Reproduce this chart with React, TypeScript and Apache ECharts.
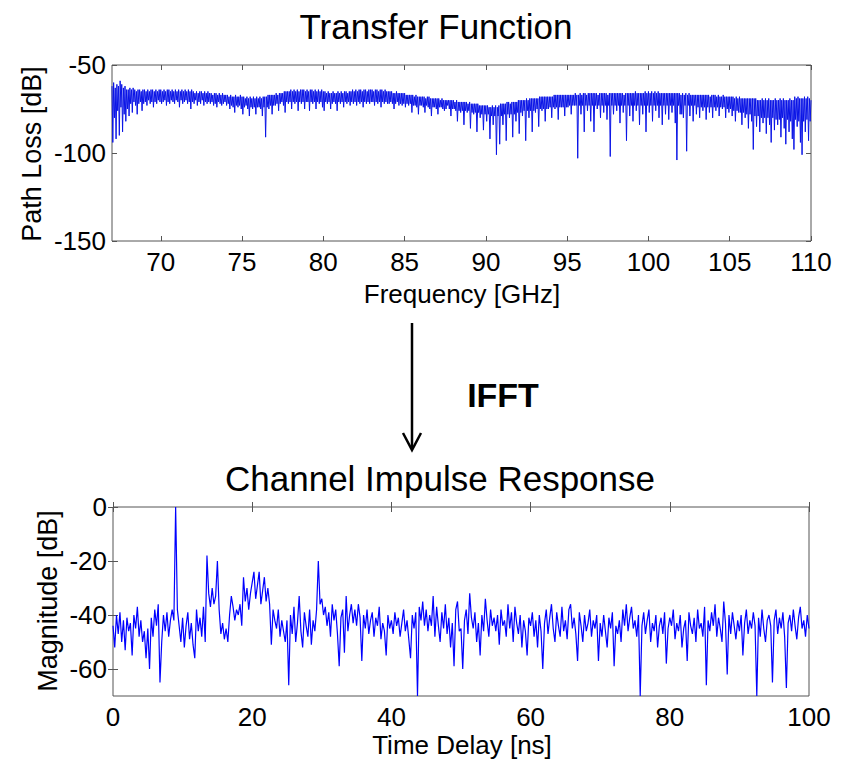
import React, { useEffect, useRef } from "react";
import * as echarts from "echarts";

// ---- Transfer function (top) : sampled every 0.05 GHz from 67 GHz (20 samples per row = 1 GHz) ----
const FREQ_START = 67;
const FREQ_STEP = 0.05;
const pathLossDb: number[] = [
  -62, -94, -60, -80, -63, -92, -61, -76, -62, -90, -59, -74, -61, -88, -63, -78, -62, -82, -64, -75, // 67
  -64, -79, -63, -72, -64, -77, -63, -71, -64, -73, -65, -78, -64, -72, -64, -71, -65, -76, -64, -72, // 68
  -64, -71, -65, -73, -64, -70, -65, -72, -64, -71, -64, -74, -65, -71, -64, -72, -65, -70, -64, -71, // 69
  -64, -72, -65, -71, -64, -70, -65, -73, -64, -71, -64, -72, -65, -70, -64, -71, -65, -72, -64, -70, // 70
  -65, -71, -64, -74, -65, -70, -64, -72, -65, -71, -64, -70, -65, -72, -64, -71, -65, -75, -64, -71, // 71
  -65, -72, -66, -70, -65, -73, -66, -71, -65, -72, -65, -70, -66, -73, -65, -71, -66, -72, -65, -71, // 72
  -66, -72, -66, -71, -67, -73, -66, -72, -66, -74, -67, -71, -66, -72, -67, -73, -66, -72, -67, -71, // 73
  -67, -73, -67, -72, -68, -75, -67, -73, -68, -74, -68, -77, -67, -73, -68, -74, -68, -73, -67, -75, // 74
  -68, -78, -68, -74, -69, -73, -68, -75, -69, -79, -68, -74, -69, -75, -68, -74, -69, -78, -68, -74, // 75
  -69, -74, -68, -75, -69, -79, -68, -74, -68, -91, -68, -74, -67, -75, -67, -73, -67, -78, -67, -73, // 76
  -67, -73, -66, -72, -67, -76, -66, -72, -66, -71, -66, -73, -65, -77, -65, -71, -65, -72, -65, -71, // 77
  -64, -75, -65, -71, -64, -72, -65, -71, -64, -76, -65, -71, -64, -72, -64, -71, -64, -75, -65, -71, // 78
  -64, -71, -65, -76, -64, -71, -64, -72, -65, -71, -64, -75, -65, -71, -64, -72, -65, -71, -64, -74, // 79
  -65, -76, -65, -71, -66, -72, -65, -71, -66, -75, -66, -72, -65, -71, -66, -72, -66, -76, -65, -71, // 80
  -66, -72, -65, -71, -66, -74, -65, -71, -65, -72, -66, -71, -65, -73, -65, -71, -64, -72, -65, -71, // 81
  -64, -73, -65, -71, -64, -72, -64, -71, -65, -74, -64, -71, -64, -72, -65, -71, -64, -72, -64, -71, // 82
  -64, -71, -65, -73, -64, -71, -64, -72, -65, -71, -64, -74, -64, -71, -65, -72, -64, -71, -65, -72, // 83
  -65, -72, -65, -71, -65, -72, -66, -75, -66, -72, -65, -71, -66, -73, -66, -72, -66, -73, -66, -72, // 84
  -66, -74, -67, -72, -67, -73, -67, -72, -67, -77, -67, -73, -68, -73, -67, -74, -68, -78, -68, -73, // 85
  -68, -73, -68, -74, -68, -77, -69, -73, -68, -74, -68, -75, -69, -79, -69, -74, -69, -74, -69, -75, // 86
  -69, -78, -69, -74, -70, -74, -69, -75, -70, -76, -70, -75, -70, -73, -70, -75, -70, -79, -70, -75, // 87
  -70, -75, -71, -76, -70, -82, -71, -76, -71, -77, -71, -76, -71, -84, -71, -76, -71, -77, -72, -76, // 88
  -71, -86, -72, -77, -72, -78, -72, -77, -72, -88, -72, -77, -73, -80, -73, -78, -73, -87, -73, -78, // 89
  -73, -82, -73, -78, -74, -92, -74, -79, -73, -84, -74, -79, -73, -101, -74, -79, -73, -95, -72, -79, // 90
  -72, -84, -72, -78, -72, -93, -71, -78, -71, -80, -72, -78, -71, -91, -71, -78, -71, -82, -71, -77, // 91
  -70, -89, -70, -77, -70, -79, -70, -76, -70, -93, -69, -76, -70, -80, -69, -76, -69, -88, -69, -76, // 92
  -69, -77, -69, -75, -69, -85, -68, -75, -68, -76, -68, -75, -68, -82, -68, -75, -68, -75, -68, -74, // 93
  -68, -80, -68, -74, -67, -75, -67, -74, -67, -81, -67, -74, -67, -74, -67, -74, -67, -79, -67, -74, // 94
  -67, -74, -67, -73, -67, -78, -67, -73, -67, -73, -66, -73, -67, -103, -67, -73, -66, -78, -67, -73, // 95
  -66, -88, -66, -73, -67, -76, -66, -73, -66, -82, -66, -73, -66, -88, -66, -73, -66, -75, -67, -73, // 96
  -66, -80, -66, -73, -66, -77, -66, -73, -66, -81, -67, -73, -66, -102, -66, -73, -66, -78, -66, -73, // 97
  -66, -76, -66, -73, -66, -83, -66, -73, -66, -77, -67, -73, -66, -93, -66, -73, -66, -79, -66, -73, // 98
  -66, -82, -66, -73, -65, -76, -66, -73, -66, -84, -66, -73, -66, -78, -66, -73, -65, -88, -66, -73, // 99
  -65, -77, -66, -73, -65, -82, -66, -73, -65, -76, -66, -73, -65, -80, -66, -73, -66, -84, -66, -73, // 100
  -66, -78, -66, -73, -66, -81, -66, -73, -66, -77, -66, -73, -66, -83, -66, -104, -66, -73, -66, -78, // 101
  -67, -78, -66, -80, -67, -73, -66, -99, -67, -73, -66, -79, -67, -73, -67, -82, -67, -73, -67, -78, // 102
  -67, -74, -67, -80, -67, -74, -67, -76, -67, -74, -67, -81, -67, -74, -67, -77, -68, -74, -67, -80, // 103
  -67, -74, -67, -76, -68, -74, -67, -79, -68, -74, -68, -75, -67, -74, -68, -80, -68, -75, -68, -77, // 104
  -68, -75, -68, -79, -68, -76, -69, -82, -68, -76, -69, -77, -68, -77, -69, -84, -69, -77, -69, -80, // 105
  -69, -78, -69, -86, -69, -78, -69, -82, -69, -98, -69, -79, -69, -85, -70, -79, -70, -88, -70, -80, // 106
  -69, -83, -70, -80, -69, -89, -70, -80, -69, -84, -70, -94, -70, -80, -70, -87, -69, -81, -70, -84, // 107
  -70, -81, -69, -91, -70, -80, -69, -86, -70, -95, -70, -81, -70, -88, -69, -82, -70, -92, -70, -98, // 108
  -68, -81, -69, -85, -68, -82, -69, -94, -69, -101, -69, -82, -68, -88, -69, -81, -68, -93, -69, -82, // 109
  -70, // 110
];

// ---- Channel impulse response (bottom) : sampled every 0.25 ns from 0 ns ----
const DELAY_START = 0;
const DELAY_STEP = 0.25;
const magnitudeDb: number[] = [
  -44, -52, -40, -47, -39, -50, -42, -53, -41, -46, -43, -55, -40, -45, -37, -48, -42, -50, -46, -56, // 0
  -45, -60, -41, -48, -38, -44, -36, -65, -50, -40, -46, -39, -48, -42, -38, -42, 0, -38, -44, -50, // 5
  -41, -52, -44, -39, -49, -43, -51, -56, -38, -46, -41, -48, -37, -50, -18, -32, -37, -30, -36, -33, // 10
  -20, -38, -47, -43, -49, -45, -50, -40, -33, -37, -42, -38, -40, -36, -44, -26, -35, -30, -38, -32, // 15
  -28, -24, -34, -29, -24, -36, -31, -26, -35, -30, -36, -51, -38, -42, -45, -38, -48, -42, -46, -50, // 20
  -42, -66, -40, -47, -37, -50, -43, -33, -46, -52, -39, -44, -48, -38, -51, -42, -46, -38, -20, -36, // 25
  -34, -40, -37, -44, -39, -48, -36, -42, -38, -47, -59, -41, -38, -54, -33, -46, -40, -36, -43, -38, // 30
  -44, -36, -41, -57, -40, -45, -38, -47, -42, -39, -48, -41, -44, -37, -49, -43, -46, -55, -40, -45, // 35
  -42, -47, -39, -44, -41, -48, -43, -38, -46, -42, -49, -56, -40, -45, -39, -70, -37, -42, -35, -44, // 40
  -38, -46, -40, -44, -33, -48, -37, -44, -50, -39, -45, -36, -47, -41, -52, -43, -59, -38, -35, -46, // 45
  -45, -60, -42, -38, -47, -32, -41, -45, -39, -50, -43, -55, -40, -46, -34, -42, -48, -38, -44, -41, // 50
  -46, -40, -51, -38, -44, -42, -48, -36, -45, -39, -50, -37, -43, -47, -40, -52, -42, -46, -55, -41, // 55
  -44, -39, -48, -42, -52, -40, -46, -60, -43, -38, -47, -41, -36, -45, -50, -39, -44, -48, -37, -46, // 60
  -42, -49, -38, -36, -45, -41, -47, -57, -39, -44, -50, -40, -46, -43, -38, -48, -42, -45, -40, -57, // 65
  -43, -48, -40, -46, -52, -41, -45, -39, -59, -44, -47, -42, -50, -38, -44, -36, -46, -41, -37, -45, // 70
  -42, -48, -40, -70, -44, -39, -47, -42, -38, -50, -43, -46, -40, -52, -44, -41, -47, -39, -58, -45, // 75
  -41, -44, -38, -49, -43, -46, -40, -52, -45, -42, -57, -39, -44, -47, -41, -50, -38, -45, -43, -48, // 80
  -37, -66, -42, -46, -39, -44, -36, -48, -41, -45, -50, -35, -43, -62, -40, -47, -39, -44, -49, -42, // 85
  -46, -40, -55, -43, -38, -47, -42, -45, -39, -44, -70, -41, -48, -38, -45, -50, -42, -40, -44, -65, // 90
  -42, -38, -47, -41, -45, -39, -48, -67, -43, -40, -46, -38, -44, -49, -41, -37, -45, -42, -48, -40, // 95
  -45, // 100
];

const freqTicks = [70, 75, 80, 85, 90, 95, 100, 105, 110];
const pathLossTicks = [-150, -100, -50];
const delayTicks = [0, 20, 40, 60, 80, 100];
const magnitudeTicks = [-60, -40, -20, 0];

const FONT = 'Arial, "Liberation Sans", Helvetica, sans-serif';
const FRAME = "#555555";
const TICK_FONT = 26;

function xAxisPair(grid: number, min: number, max: number, ticks: number[]) {
  const tick = { show: true, inside: true, length: 5, customValues: ticks, lineStyle: { color: FRAME, width: 1 } };
  return [
    {
      gridIndex: grid, type: "value", min, max, position: "bottom",
      axisLine: { show: false }, axisTick: tick, splitLine: { show: false },
      axisLabel: { customValues: ticks, fontSize: TICK_FONT, color: "#000", margin: 8, fontFamily: FONT },
    },
    {
      gridIndex: grid, type: "value", min, max, position: "top",
      axisLine: { show: false }, axisTick: tick, splitLine: { show: false },
      axisLabel: { show: false },
    },
  ];
}

function yAxisPair(grid: number, min: number, max: number, ticks: number[]) {
  const tick = { show: true, inside: true, length: 5, customValues: ticks, lineStyle: { color: FRAME, width: 1 } };
  return [
    {
      gridIndex: grid, type: "value", min, max, position: "left",
      axisLine: { show: false }, axisTick: tick, splitLine: { show: false },
      axisLabel: { customValues: ticks, fontSize: TICK_FONT, color: "#000", margin: 6, fontFamily: FONT },
    },
    {
      gridIndex: grid, type: "value", min, max, position: "right",
      axisLine: { show: false }, axisTick: tick, splitLine: { show: false },
      axisLabel: { show: false },
    },
  ];
}

export default function App() {
  const ref = useRef<HTMLDivElement>(null);

  useEffect(() => {
    if (!ref.current) return;
    const chart = echarts.init(ref.current, undefined, { renderer: "svg" });

    const topData = pathLossDb.map((v, i) => [FREQ_START + i * FREQ_STEP, v]);
    const bottomData = magnitudeDb.map((v, i) => [DELAY_START + i * DELAY_STEP, v]);

    const text = (t: string, x: number, y: number, size: number, extra: any = {}) => ({
      type: "text",
      x,
      y,
      rotation: extra.rotation || 0,
      style: {
        text: t,
        fill: "#000",
        font: `${extra.bold ? "bold " : ""}${size}px ${FONT}`,
        align: "center",
        verticalAlign: "middle",
      },
    });

    chart.setOption({
      animation: false,
      backgroundColor: "#ffffff",
      grid: [
        { left: 112, top: 65, width: 699, height: 176, show: true, borderColor: FRAME, borderWidth: 1, backgroundColor: "transparent" },
        { left: 113, top: 507, width: 696, height: 189, show: true, borderColor: FRAME, borderWidth: 1, backgroundColor: "transparent" },
      ],
      xAxis: [...xAxisPair(0, 67, 110, freqTicks), ...xAxisPair(1, 0, 100, delayTicks)],
      yAxis: [...yAxisPair(0, -150, -50, pathLossTicks), ...yAxisPair(1, -70, 0, magnitudeTicks)],
      series: [
        {
          type: "line", xAxisIndex: 0, yAxisIndex: 0, data: topData,
          showSymbol: false, symbol: "none", silent: true,
          lineStyle: { width: 1, color: "#0a14e6" },
        },
        {
          type: "line", xAxisIndex: 2, yAxisIndex: 2, data: bottomData,
          showSymbol: false, symbol: "none", silent: true,
          lineStyle: { width: 1.2, color: "#0000ff" },
        },
      ],
      graphic: [
        text("Transfer Function", 436, 26, 35),
        text("Frequency [GHz]", 462, 294, 26),
        text("Path Loss [dB]", 32, 154, 27, { rotation: Math.PI / 2 }),
        text("Channel Impulse Response", 440, 478, 35),
        text("Time Delay [ns]", 462, 745, 26),
        text("Magnitude [dB]", 48, 601, 27, { rotation: Math.PI / 2 }),
        text("IFFT", 503, 395, 34, { bold: true }),
        {
          type: "line",
          shape: { x1: 412, y1: 323, x2: 412, y2: 449 },
          style: { stroke: "#000", lineWidth: 2.5 },
        },
        {
          type: "polyline",
          shape: { points: [[403, 433], [412, 450], [421, 433]] },
          style: { stroke: "#000", lineWidth: 2.5, fill: null },
        },
      ],
    });

    return () => chart.dispose();
  }, []);

  return (
    <div
      ref={ref}
      style={{ position: "fixed", left: 0, top: 0, width: 843, height: 762, background: "#fff" }}
    />
  );
}
